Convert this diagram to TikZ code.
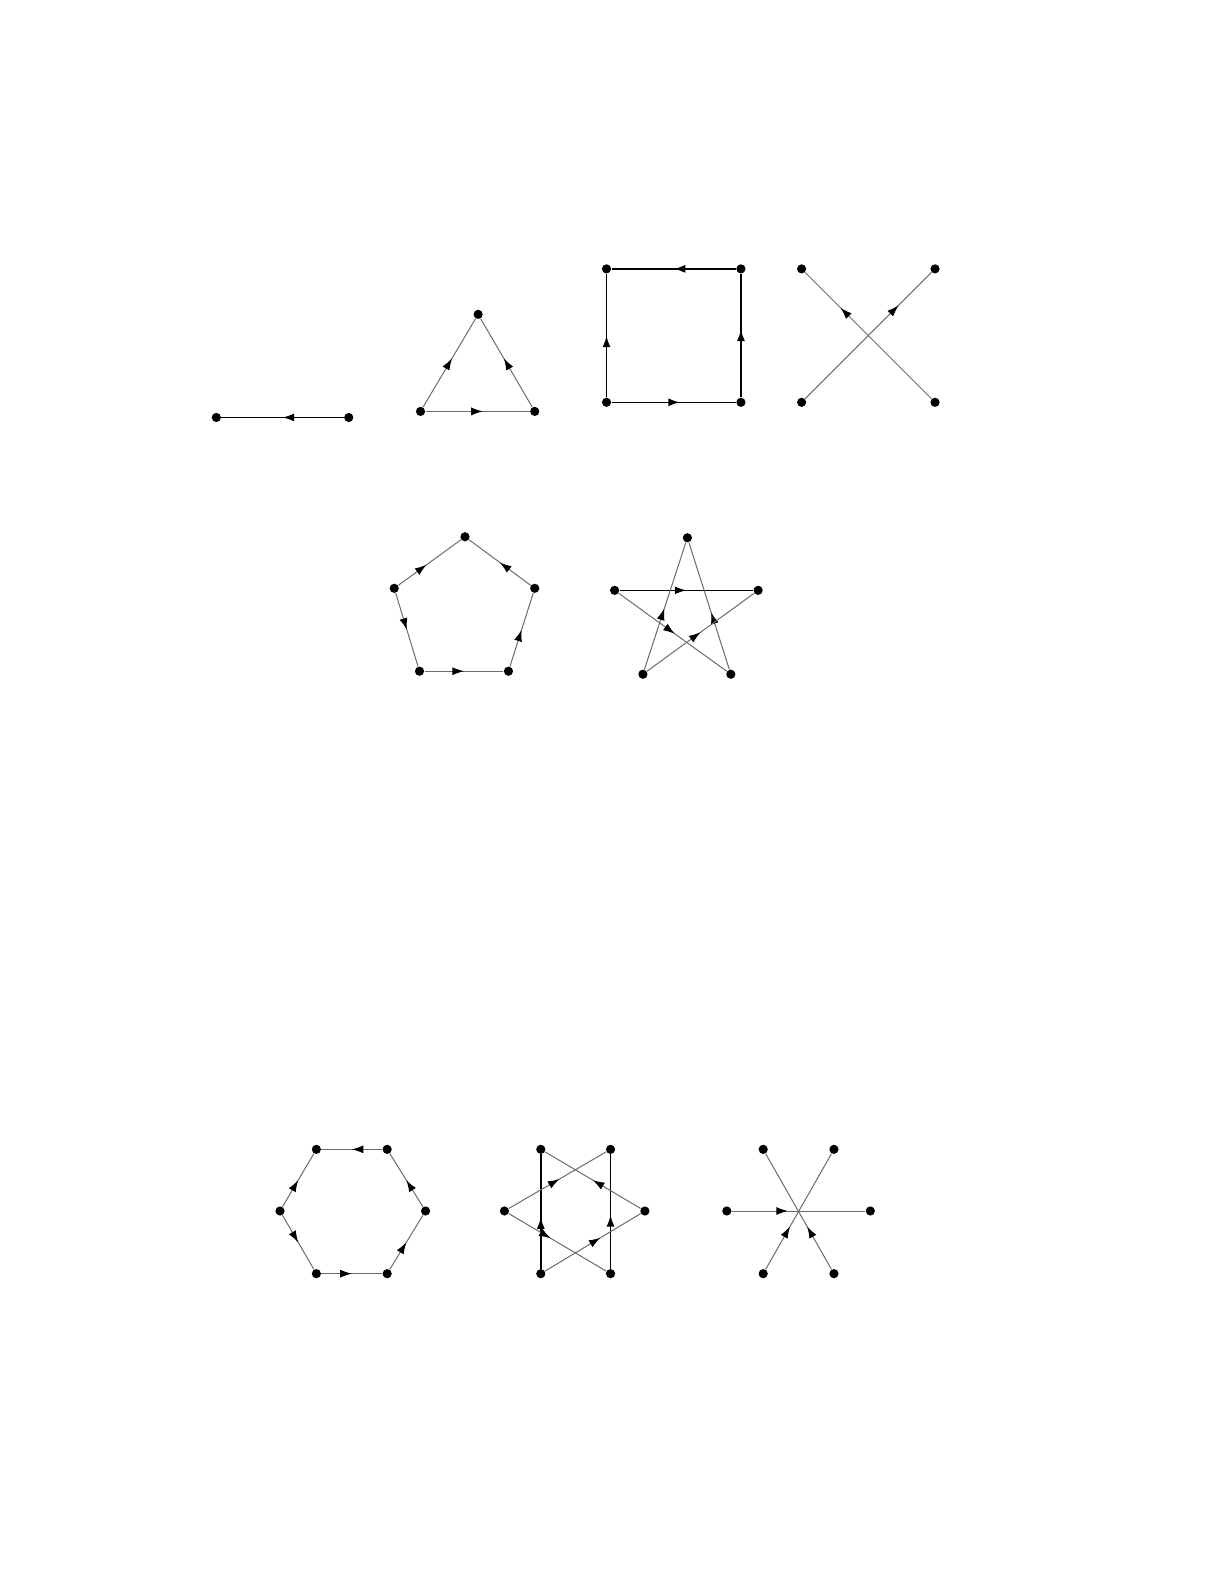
\documentclass[tikz,border=0pt]{standalone}
\usetikzlibrary{arrows.meta,decorations.markings}
\begin{document}
\begin{tikzpicture}[x=0.5055pt,y=-0.5055pt,
  vtx/.style={circle,fill=black,inner sep=0pt,minimum size=4.6pt},
  blk/.style={draw=black,line width=0.8pt},
  gry/.style={draw=black!58,line width=0.5pt},
  midarr/.style={postaction={decorate,decoration={markings,mark=at position #1 with {\arrow{Latex[length=5.8pt,width=4pt,color=black]}}}}},
  midarr/.default=0.5]
\useasboundingbox (0,0) rectangle (1211.7,1568);
% graph 1: single edge
\node[vtx] (a1) at (214,413) {};
\node[vtx] (a2) at (345,413) {};
\draw[blk,midarr] (a2) -- (a1);
% graph 2: triangle
\node[vtx] (t1) at (473,311) {};
\node[vtx] (t2) at (416,407) {};
\node[vtx] (t3) at (529,407) {};
\draw[gry,midarr=0.55] (t2) -- (t1);
\draw[gry,midarr=0.55] (t3) -- (t1);
\draw[gry,midarr=0.55] (t2) -- (t3);
% graph 3: square
\node[vtx] (s1) at (600,266) {};
\node[vtx] (s2) at (733,266) {};
\node[vtx] (s3) at (600,398) {};
\node[vtx] (s4) at (733,398) {};
\draw[blk,midarr] (s2) -- (s1);
\draw[blk,midarr] (s3) -- (s1);
\draw[blk,midarr=0.55] (s4) -- (s2);
\draw[blk,midarr=0.55] (s3) -- (s4);
% graph 4: cross
\node[vtx] (x1) at (793,266) {};
\node[vtx] (x2) at (925,266) {};
\node[vtx] (x3) at (793,398) {};
\node[vtx] (x4) at (925,398) {};
\draw[gry,midarr=0.74] (x3) -- (x2);
\draw[gry,midarr=0.72] (x4) -- (x1);
% graph 5: pentagon
\node[vtx] (p1) at (460,531) {};
\node[vtx] (p2) at (390,582) {};
\node[vtx] (p3) at (529,582) {};
\node[vtx] (p4) at (415,664) {};
\node[vtx] (p5) at (503,664) {};
\draw[gry,midarr=0.45] (p2) -- (p1);
\draw[gry,midarr] (p3) -- (p1);
\draw[gry,midarr] (p2) -- (p4);
\draw[gry,midarr] (p4) -- (p5);
\draw[gry,midarr] (p5) -- (p3);
% graph 6: pentagram
\node[vtx] (q1) at (680,532) {};
\node[vtx] (q2) at (608,584) {};
\node[vtx] (q3) at (750,584) {};
\node[vtx] (q4) at (636,667) {};
\node[vtx] (q5) at (723,667) {};
\draw[blk,midarr] (q2) -- (q3);
\draw[gry,midarr=0.48] (q4) -- (q1);
\draw[gry,midarr=0.45] (q5) -- (q1);
\draw[gry,midarr=0.52] (q2) -- (q5);
\draw[gry,midarr=0.5] (q4) -- (q3);
% graph 7: hexagon
\node[vtx] (h1) at (313,1137) {};
\node[vtx] (h2) at (383,1137) {};
\node[vtx] (h3) at (277,1198) {};
\node[vtx] (h4) at (421,1198) {};
\node[vtx] (h5) at (313,1260) {};
\node[vtx] (h6) at (383,1260) {};
\draw[gry,midarr] (h2) -- (h1);
\draw[gry,midarr] (h3) -- (h1);
\draw[gry,midarr] (h3) -- (h5);
\draw[gry,midarr] (h5) -- (h6);
\draw[gry,midarr] (h6) -- (h4);
\draw[gry,midarr] (h4) -- (h2);
% graph 8: two triangles
\node[vtx] (d1) at (535,1137) {};
\node[vtx] (d2) at (604,1137) {};
\node[vtx] (d3) at (499,1198) {};
\node[vtx] (d4) at (638,1198) {};
\node[vtx] (d5) at (535,1260) {};
\node[vtx] (d6) at (604,1260) {};
\draw[blk,midarr=0.45] (d5) -- (d1);
\draw[blk,midarr=0.47] (d6) -- (d2);
\draw[gry,midarr=0.52] (d3) -- (d2);
\draw[gry,midarr=0.5] (d4) -- (d1);
\draw[gry,midarr=0.43] (d3) -- (d6);
\draw[gry,midarr=0.58] (d5) -- (d4);
% graph 9: three crossing edges
\node[vtx] (m1) at (755,1137) {};
\node[vtx] (m2) at (825,1137) {};
\node[vtx] (m3) at (719,1198) {};
\node[vtx] (m4) at (861,1198) {};
\node[vtx] (m5) at (755,1260) {};
\node[vtx] (m6) at (825,1260) {};
\draw[gry,midarr=0.42] (m3) -- (m4);
\draw[gry,midarr=0.37] (m5) -- (m2);
\draw[gry,midarr=0.37] (m6) -- (m1);
\end{tikzpicture}
\end{document}
